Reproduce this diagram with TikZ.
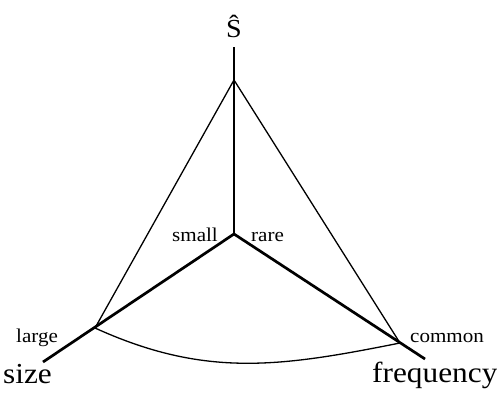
\documentclass[tikz,border=0pt]{standalone}
\usepackage{fontspec}
\setmainfont{Liberation Serif}[FakeStretch=1.08]
\begin{document}
\begin{tikzpicture}[x=1pt,y=-1pt,
  thickax/.style={line width=2.7pt},
  thinln/.style={line width=1.3pt},
  biglab/.style={inner sep=0pt,anchor=base west,font=\fontsize{29}{30}\selectfont},
  smalllab/.style={inner sep=0pt,anchor=base west,font=\fontsize{19.5}{21}\selectfont}]
\useasboundingbox (0,0) rectangle (497,393);
\coordinate (O) at (234,234);
\coordinate (top) at (234,47);
\coordinate (apex) at (234,80);
\coordinate (L) at (95,328);
\coordinate (Lend) at (43,362);
\coordinate (R) at (400,343);
\coordinate (Rend) at (425,359);
\draw[thickax] (O) -- (Lend);
\draw[thickax] (O) -- (Rend);
\draw[line width=2.3pt] (O) -- (top);
\draw[thinln] (apex) -- (L);
\draw[thinln] (apex) -- (R);
\draw[thinln] (L) .. controls (205,378) and (280,367) .. (R);
\node[inner sep=0pt,anchor=base,font=\fontsize{26}{28}\selectfont] (shat) at (234,38) {Ŝ};
\node[smalllab] (small) at (172,241) {small};
\node[smalllab] (rare) at (251,241) {rare};
\node[smalllab] (large) at (16,342) {large};
\node[smalllab] (common) at (410,342) {common};
\node[biglab] (size) at (3,383) {size};
\node[biglab] (freq) at (372,382) {frequency};
\end{tikzpicture}
\end{document}
